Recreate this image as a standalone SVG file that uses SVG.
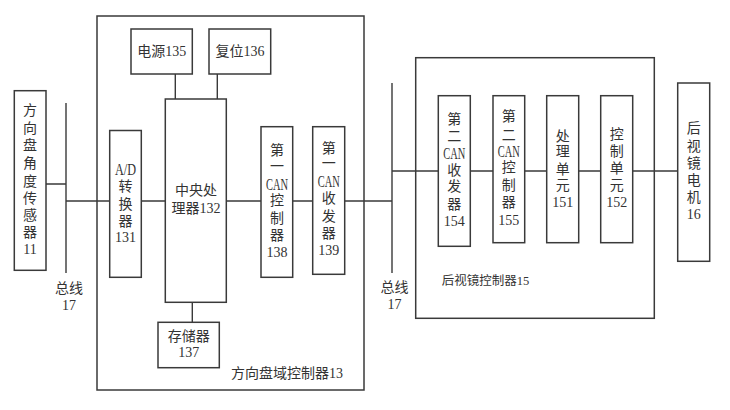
<svg xmlns="http://www.w3.org/2000/svg" width="730" height="410" viewBox="0 0 730 410">
<style>
.b{fill:none;stroke:#3a3a3a;stroke-width:1.5}
.c{fill:none;stroke:#3a3a3a;stroke-width:1.4}
text{font-family:"Liberation Serif","Noto Sans CJK SC",serif;font-size:14px;fill:#333;text-anchor:middle;dominant-baseline:central}
.s{font-size:12.5px;text-anchor:start}
.l{text-anchor:start}
.n{font-size:16px}
</style>
<rect width="730" height="410" fill="#fff"/>
<g id="connectors">
<path class="c" d="M46 184H66M66 103V273M66 201H109.7M141.3 201H165.3M226.3 201H261M292.7 201H312.7M344.7 201H392M392 83V273M392 171H438.3M470.3 171H493M524.7 171H546.7M578.7 171H600.7M632.7 171H677.7M175.3 74V99M217.3 74V99M192.3 302.3V322.3"/>
</g>
<g id="controller13">
<rect class="b" x="97" y="16" width="267" height="374"/>
<text class="l" x="231" y="373">方向盘域控制器13</text>
</g>
<g id="sensor11">
<rect class="b" x="14.3" y="90.7" width="31.7" height="179.6"/>
<text x="30" y="110">方</text><text x="30" y="128">向</text><text x="30" y="145.7">盘</text><text x="30" y="163.3">角</text><text x="30" y="181">度</text><text x="30" y="198.3">传</text><text x="30" y="215">感</text><text x="30" y="232.3">器</text><text x="30" y="249">11</text>
</g>
<g id="bus17a"><text x="69" y="288">总线</text><text x="69" y="305">17</text></g>
<g id="power135"><rect class="b" x="131" y="29" width="61.3" height="45"/><text x="161.7" y="51.7">电源135</text></g>
<g id="reset136"><rect class="b" x="209" y="29" width="61.7" height="45"/><text x="240" y="51.7">复位136</text></g>
<g id="ad131">
<rect class="b" x="109.7" y="130.5" width="31.6" height="146.8"/>
<text class="n" x="125.5" y="169.3" textLength="21" lengthAdjust="spacingAndGlyphs">A/D</text><text x="125.5" y="186.7">转</text><text x="125.5" y="204">换</text><text x="125.5" y="221.7">器</text><text x="125.5" y="237.3">131</text>
</g>
<g id="cpu132">
<rect class="b" x="165.3" y="99" width="61" height="203.3"/>
<text x="196" y="190">中央处</text><text x="196" y="208.3">理器132</text>
</g>
<g id="mem137"><rect class="b" x="158" y="322.3" width="61.3" height="45.4"/><text x="188.7" y="336">存储器</text><text x="188.7" y="352.7">137</text></g>
<g id="can138">
<rect class="b" x="261" y="126.7" width="31.7" height="150.6"/>
<text x="277" y="150">第</text><text x="277" y="166">一</text><text class="n" x="277" y="184.3" textLength="22" lengthAdjust="spacingAndGlyphs">CAN</text><text x="277" y="200.7">控</text><text x="277" y="218.3">制</text><text x="277" y="235.7">器</text><text x="277" y="252.7">138</text>
</g>
<g id="can139">
<rect class="b" x="312.7" y="126.7" width="32" height="147.6"/>
<text x="328.7" y="148.3">第</text><text x="328.7" y="163.3">一</text><text class="n" x="328.7" y="181" textLength="22" lengthAdjust="spacingAndGlyphs">CAN</text><text x="328.7" y="198.3">收</text><text x="328.7" y="216.7">发</text><text x="328.7" y="233.3">器</text><text x="328.7" y="250.7">139</text>
</g>
<g id="bus17b"><text x="394.5" y="287">总线</text><text x="394.5" y="304">17</text></g>
<g id="controller15">
<rect class="b" x="415.7" y="57.7" width="238.6" height="260.6"/>
<text class="s" x="441.7" y="280.7">后视镜控制器15</text>
</g>
<g id="can154">
<rect class="b" x="438.3" y="95.7" width="32" height="150.6"/>
<text x="454.3" y="119">第</text><text x="454.3" y="136.7">二</text><text class="n" x="454.3" y="153.3" textLength="22" lengthAdjust="spacingAndGlyphs">CAN</text><text x="454.3" y="170">收</text><text x="454.3" y="186.7">发</text><text x="454.3" y="204">器</text><text x="454.3" y="221.7">154</text>
</g>
<g id="can155">
<rect class="b" x="493" y="95.7" width="31.7" height="147"/>
<text x="508.8" y="116.7">第</text><text x="508.8" y="135">二</text><text class="n" x="508.8" y="151" textLength="22" lengthAdjust="spacingAndGlyphs">CAN</text><text x="508.8" y="167.7">控</text><text x="508.8" y="185.7">制</text><text x="508.8" y="202.3">器</text><text x="508.8" y="220">155</text>
</g>
<g id="proc151">
<rect class="b" x="546.7" y="95.7" width="32" height="147"/>
<text x="562.7" y="136.7">处</text><text x="562.7" y="151.7">理</text><text x="562.7" y="169.3">单</text><text x="562.7" y="185.7">元</text><text x="562.7" y="202.7">151</text>
</g>
<g id="ctrl152">
<rect class="b" x="600.7" y="95.7" width="32" height="147"/>
<text x="616.7" y="134.3">控</text><text x="616.7" y="151.7">制</text><text x="616.7" y="168.3">单</text><text x="616.7" y="185">元</text><text x="616.7" y="202.3">152</text>
</g>
<g id="motor16">
<rect class="b" x="677.7" y="83" width="32" height="178.3"/>
<text x="693.7" y="128.3">后</text><text x="693.7" y="146">视</text><text x="693.7" y="163.3">镜</text><text x="693.7" y="180">电</text><text x="693.7" y="197.3">机</text><text x="693.7" y="214.3">16</text>
</g>
</svg>
